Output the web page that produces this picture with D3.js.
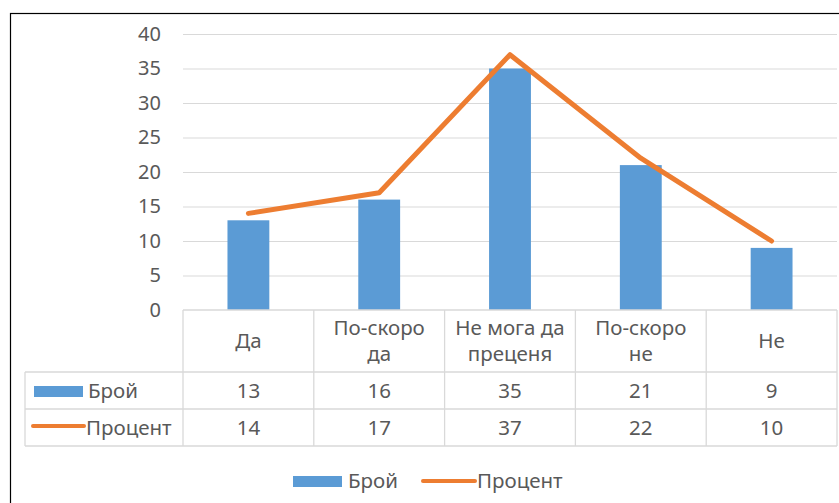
<!DOCTYPE html>
<html>
<head>
<meta charset="utf-8">
<script src="https://cdn.jsdelivr.net/npm/d3@7"></script>
<style>
  html, body { margin: 0; padding: 0; background: #fff; }
  svg { display: block; font-family: "Noto Sans", "Open Sans", sans-serif; }
</style>
</head>
<body>
<svg id="chart" width="839" height="503"></svg>
<script>
// Survey answers and their counts / percentages
const categories = ["Да", "По-скоро да", "Не мога да преценя", "По-скоро не", "Не"];
const countValues = [13, 16, 35, 21, 9];
const percentValues = [14, 17, 37, 22, 10];
const seriesNames = ["Брой", "Процент"];
const yTicks = [0, 5, 10, 15, 20, 25, 30, 35, 40];

const BLUE = "#5B9BD5";
const ORANGE = "#ED7D31";
const TEXT = "#595959";
const GRID = "#D9D9D9";
const FONT_SIZE = 20.5;

const svg = d3.select("#chart");

// Outer frame (runs past the right and bottom edges)
svg.append("rect")
  .attr("x", 10.5).attr("y", 13.5)
  .attr("width", 900).attr("height", 600)
  .attr("fill", "#fff").attr("stroke", "#000").attr("stroke-width", 1.2);

const plotLeft = 183, plotRight = 837, plotTop = 34, plotBottom = 310;
const tableLeft = 25;
const rowHeader = [310, 372];
const rowCount = [372, 409];
const rowPercent = [409, 446];

const x = d3.scaleBand().domain(categories).range([plotLeft, plotRight]).paddingInner(0).paddingOuter(0);
const y = d3.scaleLinear().domain([0, 40]).range([plotBottom, plotTop]);

// Horizontal gridlines
const yAxis = d3.axisLeft(y).tickValues(yTicks).tickSize(-(plotRight - plotLeft)).tickPadding(22);
const gy = svg.append("g").attr("transform", `translate(${plotLeft},0)`).call(yAxis);
gy.select(".domain").remove();
gy.selectAll(".tick line").attr("stroke", GRID).attr("stroke-width", 1.2)
  .filter(d => d === 0).remove();
gy.selectAll(".tick text")
  .attr("fill", TEXT).attr("font-size", FONT_SIZE - 0.5)
  .attr("font-family", "'Noto Sans', sans-serif");

// Bars
const barW = x.bandwidth() * 0.32;
svg.append("g").selectAll("rect")
  .data(categories.map((c, i) => ({ c, v: countValues[i] })))
  .join("rect")
  .attr("x", d => x(d.c) + x.bandwidth() / 2 - barW / 2)
  .attr("width", barW)
  .attr("y", d => y(d.v))
  .attr("height", d => y(0) - y(d.v))
  .attr("fill", BLUE);

// Percentage line
const line = d3.line()
  .x((d, i) => x(categories[i]) + x.bandwidth() / 2)
  .y(d => y(d));
svg.append("path")
  .datum(percentValues)
  .attr("d", line)
  .attr("fill", "none")
  .attr("stroke", ORANGE)
  .attr("stroke-width", 5)
  .attr("stroke-linejoin", "round")
  .attr("stroke-linecap", "round");

// Data table grid
const tg = svg.append("g").attr("stroke", GRID).attr("stroke-width", 1.3);
tg.append("line").attr("x1", plotLeft).attr("x2", plotRight).attr("y1", rowHeader[0]).attr("y2", rowHeader[0]);
[rowCount[0], rowPercent[0], rowPercent[1]].forEach(yy =>
  tg.append("line").attr("x1", tableLeft).attr("x2", plotRight).attr("y1", yy).attr("y2", yy));
tg.append("line").attr("x1", tableLeft).attr("x2", tableLeft).attr("y1", rowCount[0]).attr("y2", rowPercent[1]);
categories.forEach(c => {
  tg.append("line").attr("x1", x(c)).attr("x2", x(c)).attr("y1", rowHeader[0]).attr("y2", rowPercent[1]);
});
tg.append("line").attr("x1", plotRight).attr("x2", plotRight).attr("y1", rowHeader[0]).attr("y2", rowPercent[1]);

const textG = svg.append("g").attr("fill", TEXT).attr("font-size", FONT_SIZE);

// Category headers, wrapped to fit the column
const maxW = x.bandwidth() - 12;
categories.forEach(c => {
  const cx = x(c) + x.bandwidth() / 2;
  const words = c.split(" ");
  const lines = [];
  let cur = "";
  const probe = textG.append("text").attr("visibility", "hidden");
  words.forEach(w => {
    const test = cur ? cur + " " + w : w;
    probe.text(test);
    if (cur && probe.node().getComputedTextLength() > maxW) {
      lines.push(cur); cur = w;
    } else cur = test;
  });
  lines.push(cur);
  probe.remove();
  const lh = 26;
  const mid = (rowHeader[0] + rowHeader[1]) / 2;
  const t = textG.append("text").attr("text-anchor", "middle");
  lines.forEach((ln, i) => {
    t.append("tspan").attr("x", cx)
      .attr("y", mid + (i - (lines.length - 1) / 2) * lh)
      .attr("dy", "0.35em").text(ln);
  });
});

// Table values
[[countValues, rowCount], [percentValues, rowPercent]].forEach(([vals, row]) => {
  vals.forEach((v, i) => {
    textG.append("text")
      .attr("x", x(categories[i]) + x.bandwidth() / 2)
      .attr("y", (row[0] + row[1]) / 2).attr("dy", "0.35em")
      .attr("text-anchor", "middle").text(v);
  });
});

// Legend keys inside the table
svg.append("rect").attr("x", 34).attr("y", 386).attr("width", 49).attr("height", 11).attr("fill", BLUE);
textG.append("text").attr("x", 88).attr("y", (rowCount[0] + rowCount[1]) / 2).attr("dy", "0.35em").text(seriesNames[0]);
svg.append("line").attr("x1", 33).attr("x2", 84).attr("y1", 426).attr("y2", 426)
  .attr("stroke", ORANGE).attr("stroke-width", 4).attr("stroke-linecap", "round");
textG.append("text").attr("x", 86).attr("y", (rowPercent[0] + rowPercent[1]) / 2).attr("dy", "0.35em").text(seriesNames[1]);

// Bottom legend
svg.append("rect").attr("x", 293).attr("y", 476).attr("width", 49).attr("height", 11).attr("fill", BLUE);
textG.append("text").attr("x", 348).attr("y", 481).attr("dy", "0.35em").text(seriesNames[0]);
svg.append("line").attr("x1", 423).attr("x2", 475).attr("y1", 481).attr("y2", 481)
  .attr("stroke", ORANGE).attr("stroke-width", 4).attr("stroke-linecap", "round");
textG.append("text").attr("x", 477).attr("y", 481).attr("dy", "0.35em").text(seriesNames[1]);
</script>
</body>
</html>
